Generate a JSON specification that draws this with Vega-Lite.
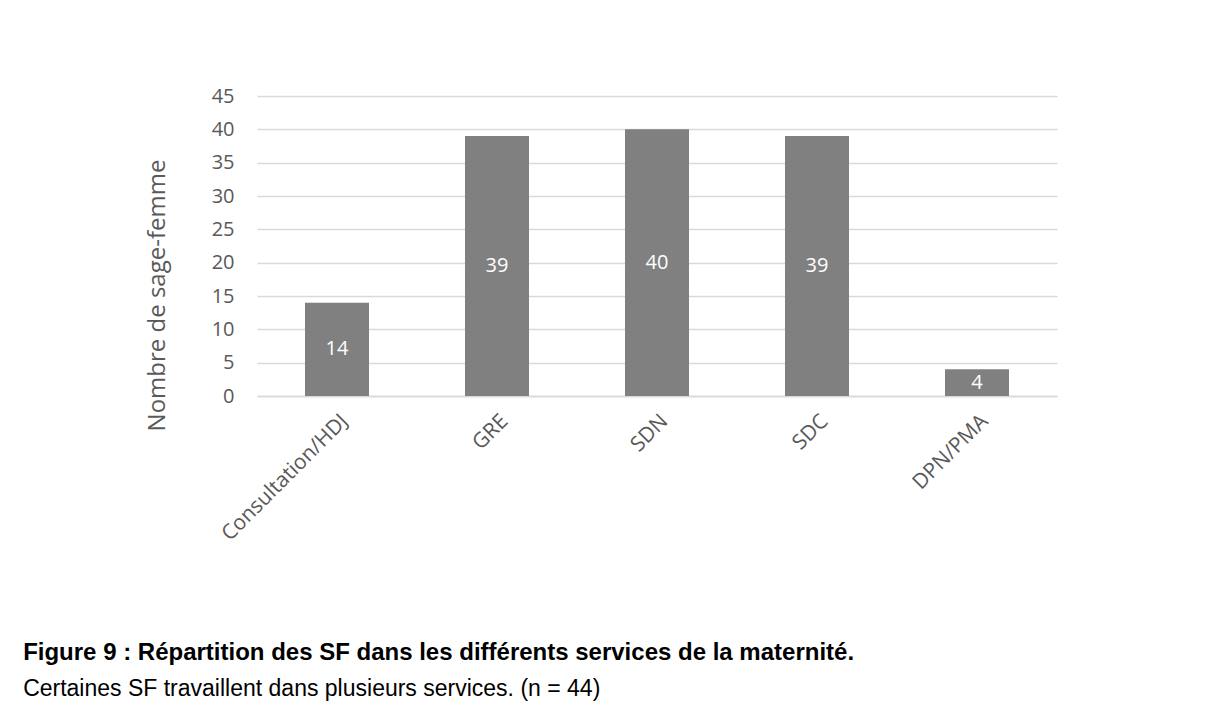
{
  "$schema": "https://vega.github.io/schema/vega-lite/v6.json",
  "width": 800,
  "height": 300,
  "padding": {"left": 23, "top": 86, "right": 150, "bottom": 10},
  "background": "white",
  "data": {
    "values": [
      {"service": "Consultation/HDJ", "n": 14},
      {"service": "GRE", "n": 39},
      {"service": "SDN", "n": 40},
      {"service": "SDC", "n": 39},
      {"service": "DPN/PMA", "n": 4}
    ]
  },
  "title": {
    "text": "Figure 9 : Répartition des SF dans les différents services de la maternité.",
    "subtitle": "Certaines SF travaillent dans plusieurs services. (n = 44)",
    "orient": "bottom",
    "anchor": "start",
    "frame": "bounds",
    "offset": 97,
    "dx": -122,
    "font": "Liberation Sans",
    "fontSize": 24,
    "fontWeight": "bold",
    "color": "black",
    "subtitleFont": "Liberation Sans",
    "subtitleFontSize": 23,
    "subtitleColor": "black",
    "subtitlePadding": 13
  },
  "config": {
    "view": {"stroke": null},
    "font": "Open Sans",
    "axisY": {
      "values": [0, 5, 10, 15, 20, 25, 30, 35, 40, 45],
      "labelOverlap": false,
      "titleFont": "Open Sans",
      "titleFontSize": 24,
      "titleFontWeight": "normal",
      "titleColor": "#595959",
      "titlePadding": 42,
      "titleY": 199,
      "labelFont": "Open Sans",
      "labelFontSize": 20,
      "labelColor": "#595959",
      "labelPadding": 23,
      "ticks": false,
      "domain": false,
      "gridColor": "#d9d9d9",
      "gridWidth": 1.5
    },
    "axisX": {
      "labelAngle": -45,
      "labelFont": "Open Sans",
      "labelFontSize": 21,
      "labelColor": "#595959",
      "labelPadding": 14,
      "ticks": false,
      "domainColor": "#d9d9d9",
      "domainWidth": 1.5
    }
  },
  "encoding": {
    "x": {
      "field": "service",
      "type": "nominal",
      "sort": null,
      "scale": {"paddingInner": 0.6, "paddingOuter": 0.3},
      "axis": {"title": null}
    }
  },
  "resolve": {"scale": {"y": "independent"}, "axis": {"y": "independent"}},
  "layer": [
    {
      "mark": {"type": "bar", "color": "#808080"},
      "encoding": {
        "y": {
          "field": "n",
          "type": "quantitative",
          "scale": {"domain": [0, 45], "nice": false},
          "axis": {"title": "Nombre de sage-femme"}
        }
      }
    },
    {
      "mark": {"type": "text", "color": "white", "font": "Open Sans", "fontSize": 20, "baseline": "middle"},
      "encoding": {
        "y": {
          "field": "n",
          "type": "quantitative",
          "scale": {"domain": [0, 90], "nice": false},
          "axis": null
        },
        "text": {"field": "n", "type": "quantitative"}
      }
    }
  ]
}
